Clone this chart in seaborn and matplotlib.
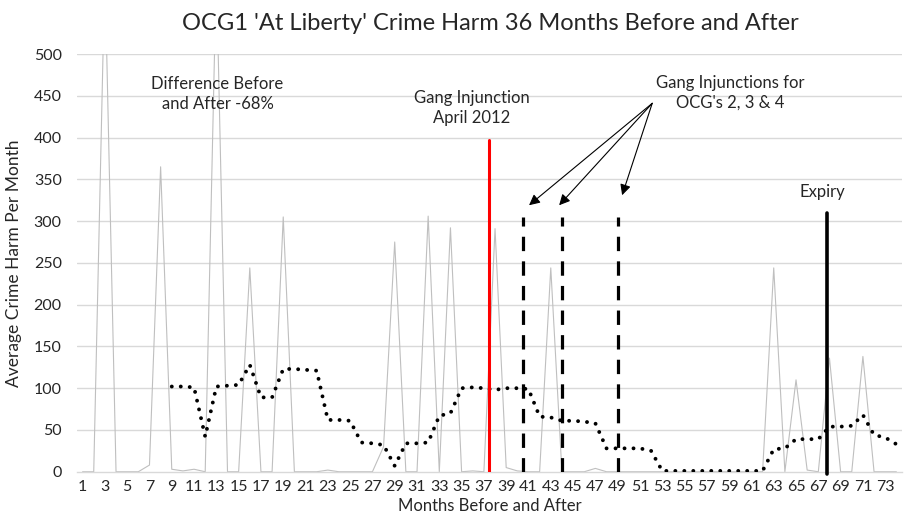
import matplotlib
matplotlib.use("Agg")
import matplotlib.pyplot as plt
import seaborn as sns
import pandas as pd

# monthly crime harm (raw) - months 1..74
months = list(range(1, 75))
crime_harm = [0, 0, 600, 0, 0, 0, 8, 365, 3, 1,
              3, 0, 600, 0, 0, 244, 0, 0, 305, 0,
              0, 0, 2, 0, 0, 0, 0, 30, 275, 0,
              0, 306, 0, 292, 0, 1, 0, 291, 5, 1,
              0, 0, 244, 0, 0, 0, 4, 0, 0, 0,
              0, 0, 0, 0, 0, 0, 0, 0, 0, 0,
              0, 0, 244, 0, 110, 2, 0, 136, 0, 0,
              138, 0, 0, 0]

# moving average (dotted) - months 9..74
avg_months = list(range(9, 75))
rolling_avg = [102, 102, 101, 42, 102, 103, 104, 128, 89, 89,
               123, 123, 122, 121, 62, 62, 61, 35, 34, 32,
               7, 34, 34, 35, 67, 70, 100, 101, 100, 98,
               100, 100, 99, 66, 65, 61, 61, 60, 58, 28,
               28, 28, 28, 25, 1, 1, 1, 1, 1, 1,
               1, 1, 1, 1, 27, 28, 39, 39, 39, 54,
               54, 55, 68, 44, 41, 33]

# event markers
injunction_month = 37.5
other_injunctions = [40.5, 44.0, 49.0]
expiry_month = 67.75

raw_df = pd.DataFrame({"month": months, "harm": crime_harm})
avg_df = pd.DataFrame({"month": avg_months, "harm": rolling_avg})

sns.set_theme(style="white")
plt.rcParams['font.family'] = ['Lato', 'DejaVu Sans']

fig = plt.figure(figsize=(9.06, 5.23), dpi=100)
ax = fig.add_axes([0.085, 0.098, 0.9105, 0.7987])

# gridlines
for v in range(50, 501, 50):
    ax.axhline(v, color='#d9d9d9', lw=1.0, zorder=0)

sns.lineplot(data=raw_df, x="month", y="harm", ax=ax, color='#bfbfbf',
             lw=0.8, zorder=2)
line = sns.lineplot(data=avg_df, x="month", y="harm", ax=ax, color='black',
                    lw=2.8, zorder=3).lines[-1]
line.set_dashes((0.01, 2.3))
line.set_dash_capstyle('round')

# vertical event lines
ax.plot([injunction_month] * 2, [0, 397], color='#ff0000', lw=2.2, zorder=4)
for m in other_injunctions:
    ax.plot([m] * 2, [0, 305], color='black', lw=2.3, dashes=(4.5, 3.2),
            zorder=4)
ax.plot([expiry_month] * 2, [-3, 310], color='black', lw=2.6, zorder=4,
        clip_on=False)

# annotations
note_size = 12
ax.text(13.1, 452, "Difference Before\nand After -68%", ha='center',
        va='center', fontsize=note_size, linespacing=1.3)
ax.text(35.9, 435, "Gang Injunction\nApril 2012", ha='center', va='center',
        fontsize=note_size, linespacing=1.3)
ax.text(59.1, 454, "Gang Injunctions for\nOCG's 2, 3 & 4", ha='center',
        va='center', fontsize=note_size, linespacing=1.3)
ax.text(67.4, 335, "Expiry", ha='center', va='center', fontsize=note_size)

for tx, ty in [(41.05, 319), (43.75, 319), (49.4, 331)]:
    ax.annotate("", xy=(tx, ty), xytext=(52.1, 441),
                arrowprops=dict(arrowstyle='-|>', color='black', lw=0.8,
                                mutation_scale=16, shrinkA=0, shrinkB=0))

ax.set_xlim(0.5, 74.5)
ax.set_ylim(0, 500)
ax.set_xticks(list(range(1, 74, 2)))
ax.set_yticks(list(range(0, 501, 50)))
ax.tick_params(axis='both', length=0, labelsize=11.5, colors='#262626')
ax.tick_params(axis='x', pad=6)
ax.tick_params(axis='y', pad=11)

for side in ['top', 'right', 'left']:
    ax.spines[side].set_visible(False)
ax.spines['bottom'].set_color('#d9d9d9')
ax.spines['bottom'].set_linewidth(1.0)

ax.set_xlabel("Months Before and After", fontsize=12, color='#262626',
              labelpad=3)
ax.set_ylabel("Average Crime Harm Per Month", fontsize=12.5,
              color='#262626', labelpad=8)
fig.text(0.541, 0.955, "OCG1 'At Liberty' Crime Harm 36 Months Before and After",
         ha='center', va='center', fontsize=17, color='#262626')

fig.savefig("out.png", dpi=100)
